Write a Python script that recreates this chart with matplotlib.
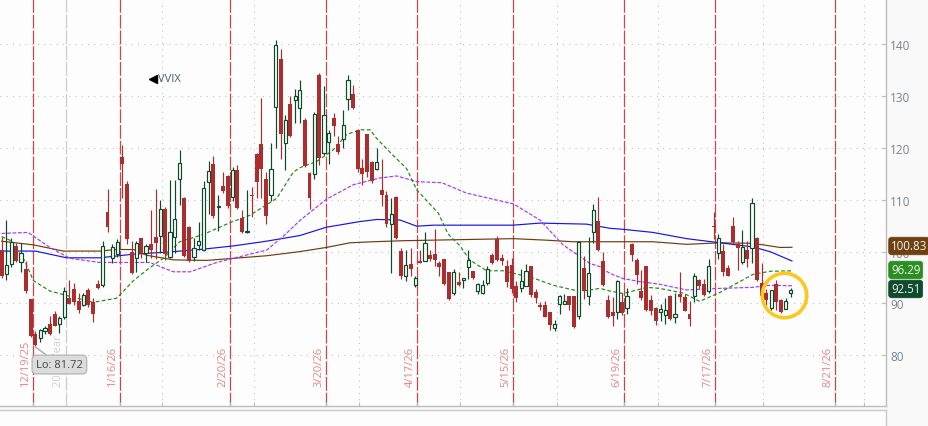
import numpy as np
import matplotlib
matplotlib.use("Agg")
import matplotlib.pyplot as plt

#daily candles
opens=[100.4,95.6,97.7,101.0,97.9,96.6,90.8,84.1,83.3,84.6,
86.0,87.9,86.1,87.3,91.0,92.8,90.4,89.7,92.6,90.3,
93.7,93.5,107.6,98.8,99.5,118.3,113.0,100.0,98.8,102.6,
99.8,101.4,102.9,103.0,108.3,99.0,102.9,114.0,110.4,104.8,
99.0,101.3,100.4,113.5,117.0,108.6,112.6,114.6,110.5,115.8,
106.5,103.7,111.0,118.9,120.8,114.0,110.9,127.9,137.2,121.0,
128.5,129.2,127.7,125.4,115.2,114.9,134.1,119.0,121.2,125.8,
120.8,121.7,129.4,130.4,123.4,116.2,122.6,117.3,116.0,111.9,
111.0,105.3,110.6,100.1,95.2,97.6,93.6,98.1,98.2,99.3,
99.6,97.8,98.5,96.0,92.0,94.2,94.6,97.0,96.2,92.4,
92.0,94.0,99.3,102.5,98.8,97.2,97.5,93.3,92.9,93.4,
97.2,92.2,89.7,89.7,88.3,85.2,89.9,89.9,91.4,91.4,
87.6,96.8,91.5,103.7,106.0,98.1,90.6,88.3,88.3,90.2,
89.2,101.4,98.4,92.3,97.2,90.6,89.2,88.3,87.8,91.5,
87.3,91.8,91.3,87.9,91.5,94.5,93.7,92.4,105.0,99.8,
100.1,96.9,105.0,101.4,98.0,100.4,100.6,102.6,93.9,92.0,
89.2,93.7,90.6,89.0,92.05]
closes=[95.2,97.4,101.9,98.1,99.8,92.4,83.8,81.9,84.9,85.2,
84.1,85.7,87.1,92.4,89.9,90.3,88.7,91.7,89.7,87.9,
92.9,101.0,104.7,100.8,101.9,117.0,102.4,95.8,101.7,99.5,
101.1,100.3,101.6,108.3,99.5,103.7,106.2,117.1,99.2,98.2,
100.6,102.1,112.3,115.6,106.8,108.8,111.7,108.8,115.8,108.5,
103.7,104.0,110.7,113.4,116.0,106.9,116.0,139.8,122.6,125.4,
122.3,130.1,131.2,116.5,110.4,126.5,118.1,126.3,122.9,124.2,
119.2,124.4,133.2,127.8,116.0,114.9,115.3,113.7,117.3,111.0,
105.3,107.3,102.6,95.3,97.5,96.6,95.0,97.8,101.7,98.5,
98.3,97.0,93.7,90.8,96.0,93.5,94.9,98.3,95.0,93.7,
93.5,96.7,97.8,98.3,98.1,94.2,92.8,91.0,94.4,96.3,
91.6,91.0,89.4,87.4,85.8,86.0,91.5,90.4,89.6,85.4,
101.9,92.3,95.8,108.1,100.4,93.5,87.3,87.6,94.3,88.2,
91.5,99.4,95.4,91.0,88.8,88.5,86.7,89.0,88.7,86.9,
87.9,91.3,88.6,87.0,95.2,93.3,91.6,97.3,104.7,102.7,
96.1,95.3,101.9,100.6,100.8,98.5,109.4,94.5,91.5,90.7,
92.5,90.3,88.4,90.4,92.51]
highs=[102.9,106.1,102.7,101.7,101.7,98.2,90.9,84.6,85.0,85.7,
87.6,88.6,87.6,93.1,94.5,93.9,92.1,92.0,92.9,91.0,
94.5,102.0,112.0,101.4,102.4,120.5,113.6,102.0,102.0,102.7,
101.4,108.0,112.0,109.9,108.7,113.9,113.9,119.7,110.5,104.9,
102.7,105.8,113.7,117.5,118.5,111.0,115.4,114.7,116.3,116.8,
108.0,111.9,112.4,119.0,129.7,115.4,121.0,140.9,139.1,126.4,
130.0,131.4,133.1,125.7,115.4,126.9,134.5,131.9,123.5,126.8,
122.4,127.4,134.1,132.2,123.6,117.8,122.7,117.4,120.0,117.8,
111.7,110.3,110.7,100.6,100.4,100.6,95.3,100.3,103.7,100.3,
104.3,98.2,98.6,96.1,96.6,96.0,95.0,100.4,96.3,94.0,
94.5,97.2,99.8,103.1,99.5,98.3,98.8,94.4,96.7,97.6,
97.3,92.8,90.3,90.4,88.4,86.8,91.7,91.8,91.5,91.5,
102.0,99.2,102.9,109.1,110.6,99.9,91.6,91.3,94.5,92.1,
92.9,101.6,98.8,96.5,97.3,91.6,89.3,89.8,91.0,91.6,
92.1,96.0,91.8,90.5,95.8,94.8,94.7,98.5,107.7,103.3,
101.4,97.5,106.7,102.0,104.2,102.0,110.4,102.9,97.8,92.8,
92.6,94.5,90.8,91.0,93.0]
lows=[95.0,94.6,97.0,97.9,96.1,92.1,83.6,81.72,82.6,84.1,
83.9,85.6,84.3,87.0,89.8,89.6,88.1,89.5,89.3,86.5,
92.8,93.2,103.7,97.8,99.0,110.3,101.4,95.6,96.1,98.8,
97.9,98.8,98.5,99.8,98.3,98.7,99.8,109.0,98.9,98.0,
98.1,100.4,100.1,107.2,106.5,104.0,111.4,108.4,109.7,108.3,
103.5,103.5,106.7,110.4,110.4,105.3,109.8,119.9,117.9,115.7,
122.1,124.8,124.8,116.3,108.3,114.0,116.7,118.6,116.9,122.4,
118.9,119.9,127.4,127.6,115.3,112.8,114.3,113.2,115.7,108.8,
104.7,95.8,102.4,94.7,94.4,95.2,93.2,97.8,98.2,98.1,
97.2,95.3,93.6,90.7,91.6,93.3,93.0,94.7,94.7,91.8,
91.9,93.5,97.7,98.2,97.4,93.1,92.1,90.3,92.2,93.3,
91.2,90.0,88.7,87.3,84.9,84.7,87.9,89.8,88.7,85.2,
86.9,90.8,89.7,101.7,100.1,93.4,87.1,85.7,86.9,87.8,
88.0,98.2,93.7,90.7,88.6,87.8,85.9,86.7,86.0,86.8,
86.3,90.3,88.5,85.7,90.3,92.8,91.4,92.1,102.4,98.5,
95.3,95.2,101.7,96.5,97.6,97.1,97.8,94.3,90.0,89.7,
88.8,88.8,88.1,88.9,91.3]

#moving averages, read at a handful of bars
blue_x=[0,7,13.5,20.4,27.4,34.3,41.2,48.2,55,62,67.5,74.5,78,82.8,86.3,89.7,106.3,111.9,121.6,126.4,129.2,135.4,142.4,149.3,156.2,159.7,164.3]
blue_y=[100.1,100.1,98.8,98.8,99.5,99.9,100.4,101.1,102,103.1,104.7,105.8,106.2,106.1,104.9,105.1,105.1,105.5,105.3,104.5,104.3,103.7,102.5,101.7,100.9,100,98.2]
brown_x=[0,6.6,12.8,20.4,23.9,27.4,30.1,35.7,42.6,48.2,55.1,62,67.5,72.4,77.2,83.5,106.4,113.3,118.8,126.4,135.4,142.4,149.3,156.2,161.8,164.3]
brown_y=[102,101.3,100.1,100.1,100.4,100.4,99.3,98.4,98.3,98.7,99.2,100,100.8,101.7,101.9,102.1,102.5,102.2,101.9,101.9,101.9,101.4,101.7,101.6,100.8,100.83]
purple_x=[0,5.5,10,14.2,20.4,26,30.8,35.7,39.2,44.7,51.6,55.1,58.6,62,67.5,73.1,78.6,82.1,86.3,91.5,96.6,106.4,111.9,116.7,122.3,124.4,126.4,129.2,132.7,136.8,142.4,149.3,156.2,159.7,164.3]
purple_y=[103.5,103.7,100.8,98.7,97.9,97.9,97.9,96.1,96.1,97.9,99.5,100.3,103,106,110.1,112.9,114.2,114.6,113.5,113.3,111.3,109.2,106.1,101.3,97.7,97.1,95.8,94.8,94.2,93.7,92.6,92.9,93.1,93.5,93.4]
green_x=[0,1.7,4.8,6.6,10,12.8,19,23.9,27.4,30.8,33.6,37,41.9,47.5,51.6,57.2,60.6,62,65.5,68.9,71.7,74.5,76.6,77.9,80.7,84.2,86.3,90.8,92.8,95.3,97.3,100.8,104.3,110.5,114.7,120.2,124.4,126.4,129.2,131.3,134.1,136.8,141.7,145.1,149.3,156.2,159.7,164.3]
green_y=[102.9,102.2,98.2,94.4,92.4,91.7,90.2,91,94.4,96.9,98.7,101.9,103.3,105.6,107,110.3,115.3,116.2,117.4,119.6,122.6,123.5,123.5,121.9,119.2,116,111.9,107.4,103.4,101.1,98.4,96.3,96.3,94.9,93.5,92.3,92.9,92.4,91.9,92.4,93.1,92.9,92,90.4,92.1,95.6,96.2,96.29]

#bar positions of the time axis lines
date_pos=[6.5,24.5,47.5,67.5,86.4,106.3,129.4,148.4,173.2]
date_labels=["12/19/25","1/16/26","2/20/26","3/20/26","4/17/26","5/15/26","6/19/26","7/17/26","8/21/26"]
year_pos=13.4
month_pos=[33.3,52.5,74.3,95.3,115.5,136.5,158.3,179.3]
yticks=[80,90,100,110,120,130,140]

tag_vals=["100.83","96.29","92.51"]
tag_ypix=[247,271,290]
tag_cols=["#6e4210","#2a8f1e","#0e4a2c"]

W,H=929,427
fig=plt.figure(figsize=(W/100,H/100),dpi=100,facecolor="#f9f9f9")
plt.rcParams['font.family']=['Open Sans','DejaVu Sans']
ax=fig.add_axes([0,(H-407)/H,886/W,407/H],facecolor="#fdfdfd")
ax.set_xlim(-0.35,183.85)
ax.set_ylim(70.2,148.75)

#grid
dots=(0,(1,5))
for v in yticks:
    ax.axhline(v,color="#bdbdbd",lw=0.75,ls=dots,zorder=1)
for m in month_pos:
    ax.axvline(m,color="#bdbdbd",lw=0.75,ls=dots,zorder=1)
ax.axvline(year_pos,color="#cccccc",lw=0.9,ls=(0,(11,1.6)),zorder=1)
for d,lab in zip(date_pos,date_labels):
    ax.axvline(d,color="#c4484c",lw=0.9,ls=(0,(11,1.6)),zorder=1)
    ax.annotate(lab,(d,74.1),xytext=(-5.2,0),textcoords="offset points",rotation=90,
                ha="center",va="bottom",fontsize=8,color="#e58585",zorder=2)
ax.annotate("2026 Year",(year_pos,74.1),xytext=(-5.2,0),textcoords="offset points",rotation=90,
            ha="center",va="bottom",fontsize=8,color="#cfcfcf",zorder=2)

#averages under the candles
ax.plot(brown_x,brown_y,color="#6e3c0c",lw=0.85,zorder=3)
ax.plot(blue_x,blue_y,color="#1414e6",lw=0.85,zorder=3)
ax.plot(purple_x,purple_y,color="#a838f0",lw=0.85,ls=(0,(3.2,1.4)),zorder=3)
ax.plot(green_x,green_y,color="#1f8a10",lw=0.85,ls=(0,(3.2,2.0)),zorder=3)

#candles
x=np.arange(len(opens))
o=np.array(opens)
c=np.array(closes)
up=c>o
red="#ab2d2d"
dark="#0a4a28"
ax.vlines(x[~up],np.array(lows)[~up],np.array(highs)[~up],color=red,lw=0.85,zorder=4)
ax.vlines(x[up],np.array(lows)[up],np.array(highs)[up],color=dark,lw=0.85,zorder=4)
ax.bar(x[~up],(o-c)[~up],bottom=c[~up],width=0.82,color=red,linewidth=0,zorder=5)
ax.bar(x[up],(c-o)[up],bottom=o[up],width=0.66,facecolor="#fdfdfd",edgecolor=dark,linewidth=0.85,zorder=5)

#highlight ring
ax.plot([162.6],[91.7],marker="o",ms=32,mfc="none",mec="#fcc81e",mew=2.6,zorder=6)

#symbol
ax.plot([31.5],[133.4],marker="<",ms=6,color="black",zorder=6)
ax.text(32.6,133.4,"VVIX",fontsize=8,color="#4a5a70",va="center",ha="left",zorder=6)

#low callout
ax.annotate("Lo: 81.72",xy=(7,81.6),xytext=(12,78.2),fontsize=8,color="#444444",ha="center",va="center",zorder=7,
            bbox=dict(boxstyle="round,pad=0.35,rounding_size=0.4",fc="#dcdcdc",ec="#b4b4b4",lw=0.9),
            arrowprops=dict(arrowstyle="-",color="#a8a8a8",lw=1.0,shrinkA=0,shrinkB=0))

#price axis on the right
ax.yaxis.tick_right()
ax.set_yticks(yticks)
ax.set_xticks(date_pos+month_pos)
ax.set_xticklabels([])
ax.tick_params(axis="y",direction="in",length=3,width=0.8,color="#bdbdbd",labelsize=8.5,labelcolor="#76838f",pad=3)
ax.tick_params(axis="x",direction="in",length=3,width=0.8,color="#bdbdbd")
for s in ["top","left"]:
    ax.spines[s].set_visible(False)
for s in ["right","bottom"]:
    ax.spines[s].set_color("#bdbdbd")
    ax.spines[s].set_linewidth(1.0)

#last value tags
for val,yp,col in zip(tag_vals,tag_ypix,tag_cols):
    fig.text(891/W,1-yp/H,val,fontsize=8.3,color="#f2f2f2",ha="left",va="center",zorder=10,
             bbox=dict(boxstyle="round,pad=0.2,rounding_size=0.25",fc=col,ec=col,lw=0.5))

#empty panel below
ax2=fig.add_axes([0,0,886/W,(H-411)/H],facecolor="#fdfdfd")
ax2.set_xticks([])
ax2.set_yticks([])
for s in ["bottom","left"]:
    ax2.spines[s].set_visible(False)
for s in ["top","right"]:
    ax2.spines[s].set_color("#c8c8c8")
    ax2.spines[s].set_linewidth(1.0)

fig.savefig("out.png",dpi=100,facecolor=fig.get_facecolor())
